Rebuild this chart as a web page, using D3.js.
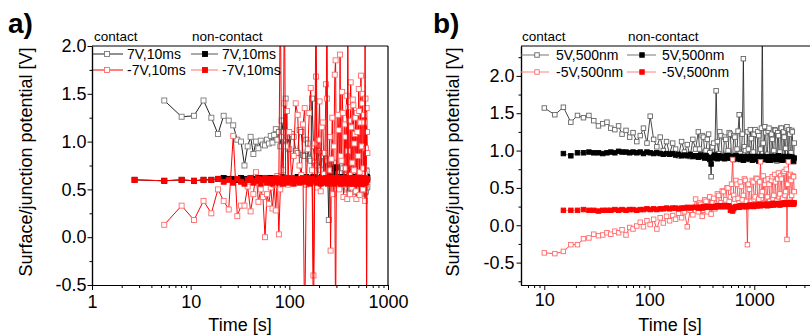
<!DOCTYPE html>
<html>
<head>
<meta charset="utf-8">
<script src="https://cdn.jsdelivr.net/npm/d3@7"></script>
<style>
  body { margin: 0; background: #fff; }
  text { font-family: "Liberation Sans", Arial, sans-serif; fill: #000; }
</style>
</head>
<body>
<div id="chart-area"></div>
<script>

// DATA ------------------------------------------------------------

// panel a) time axis [s]
var timeA = [2.7, 5.4, 8.1, 10.8, 13.5, 16.2, 18.9, 21.6, 24.3, 27,
  29.7, 32.4, 35.1, 37.8, 40.5, 43.2, 45.9, 48.6, 51.3, 54,
  56.7, 59.4, 62.1, 64.8, 67.5, 70.2, 72.9, 75.6, 78.3, 81,
  83.7, 86.4, 89.1, 91.8, 94.5, 97.2,
  99.9, 105.3, 110.7, 116.1, 121.5, 126.9, 132.3, 137.7, 143.1, 148.5,
  153.9, 159.3, 164.7, 170.1, 175.5, 180.9, 186.3, 191.7, 197.1, 202.5,
  207.9, 213.3, 218.7, 224.1, 229.5, 234.9, 240.3, 245.7, 251.1, 256.5,
  261.9, 267.3, 272.7, 278.1, 283.5, 288.9, 294.3, 299.7, 305.1, 310.5,
  315.9, 321.3, 326.7, 332.1, 337.5, 342.9, 348.3, 353.7, 359.1, 364.5,
  369.9, 375.3, 380.7, 386.1, 391.5, 396.9, 402.3, 407.7, 413.1, 418.5,
  423.9, 429.3, 434.7, 440.1, 445.5, 450.9, 456.3, 461.7, 467.1, 472.5,
  477.9, 483.3, 488.7, 494.1, 499.5, 504.9, 510.3, 515.7, 521.1, 526.5,
  531.9, 537.3, 542.7, 548.1, 553.5, 558.9, 564.3, 569.7, 575.1, 580.5,
  585.9, 591.3, 596.7, 602.1, 607.5, 612.9, 618.3];

var contactP7 = [null, 1.43, 1.26, 1.27, 1.43, 1.25, 1.08, 1.27, 1.22, 1.17,
  1.02, 1.00, 0.75, 0.95, 1.05, 0.87, 1.00, 0.93, 1.01, 0.97,
  0.96, 1.02, 0.98, 1.06, 0.99, 1.07, 1.13, 1.02, 1.10, 0.95,
  1.22, 1.10, 1.00, 1.45, 0.97, 1.05,
  0.92, 1.08, 1.05, 0.90, 0.88, 1.12, 1.10, 0.86, 0.85, 1.02,
  0.98, 0.82, 0.80, 1.45, 0.95, 0.78, 0.75, 0.96, 0.90, 0.72,
  0.70, 0.88, 0.85, 0.66, 0.65, 0.82, 0.80, 0.60, 0.18, 0.70,
  0.72, 0.58, 0.62, 0.76, 0.78, 0.60, 0.58, 0.73, 0.70, 0.56,
  0.55, 0.69, 0.68, 0.57, 0.60, 0.74, 0.72, 0.53, 0.55, 0.67,
  0.66, 0.50, 0.52, 0.71, 0.70, 0.56, 0.58, 0.65, 0.64, 0.49,
  0.50, 0.69, 0.68, 0.54, 0.56, 0.63, 0.62, 0.47, 0.48, 0.67,
  0.66, 0.53, 0.55, 0.61, 0.60, 0.46, 0.47, 0.66, 0.65, 0.51,
  0.52, 0.64, 0.63, 0.45, 0.46, 0.68, 0.67, 0.49, 0.50, 0.63,
  0.62, 0.47, 0.48, 0.70, 0.69, 0.52, 0.53];

var contactM7 = [null, 0.13, 0.33, 0.18, 0.38, 0.25, 0.50, 0.38, 0.29, 1.06,
  0.22, 0.33, 0.33, 0.53, 0.27, 0.45, 0.68, 0.37, 0.50, 0.42,
  0.00, 0.45, 0.35, 0.52, 0.30, 0.55, 0.28, 0.64, 0.03, 0.50,
  1.05, 0.70, 1.40, 0.95, 1.32, 0.55,
  1.10, 0.62, 0.85, 1.40, 1.28, 0.75, 0.65, 1.18, 1.35, 0.55,
  0.92, 1.30, 1.56, 0.70, -0.40, 0.98, 1.68, 0.52, 1.02, 1.42,
  0.48, 1.15, 1.20, 0.66, 0.88, 1.60, 1.45, 0.58, 0.70, 1.05,
  -0.14, 0.82, 1.25, 0.45, 0.95, 1.70, 1.85, 0.60, 0.62, 1.28,
  1.12, 0.50, 1.91, 0.85, 0.80, 1.52, 1.30, 0.42, 0.55, 1.18,
  1.05, 0.72, 1.48, 0.40, 0.90, 1.36, 1.22, 0.65, 0.45, 1.62,
  1.15, 0.52, 0.78, 1.44, 1.38, 0.70, 0.98, 1.08, 1.25, 0.48,
  0.40, 1.30, 1.10, 0.62, 0.85, 1.55, 1.32, 0.44, 0.68, 1.20,
  1.69, 0.58, 0.95, 1.40, 1.50, 0.50, 0.72, 1.28, 1.20, 0.66,
  0.38, 1.45, 0.93, 0.55, 1.35, 1.10, 0.88];

var noncontactP7 = [0.60, 0.59, 0.60, 0.59, 0.60, 0.60, 0.61, 0.62, 0.61, 0.61,
  0.60, 0.62, 0.61, 0.60, 0.62, 0.61, 0.60, 0.62, 0.61, 0.62,
  0.60, 0.61, 0.62, 0.61, 0.60, 0.62, 0.61, 0.62, 0.60, 0.61,
  0.63, 0.61, 0.62, 0.60, 0.62, 0.61,
  0.62, 0.61, 0.60, 0.62, 0.63, 0.61, 0.61, 0.60, 0.62, 0.63,
  0.60, 0.61, 0.61, 0.62, 0.63, 0.60, 0.61, 0.62, 0.62, 0.60,
  0.60, 0.63, 0.62, 0.61, 0.61, 0.60, 0.63, 0.62, 0.60, 0.61,
  0.62, 0.63, 0.61, 0.60, 0.62, 0.72, 0.73, 0.62, 0.61, 0.60,
  0.62, 0.61, 0.60, 0.63, 0.63, 0.61, 0.61, 0.62, 0.62, 0.60,
  0.60, 0.61, 0.62, 0.63, 0.61, 0.60, 0.63, 0.62, 0.60, 0.61,
  0.62, 0.60, 0.61, 0.63, 0.62, 0.61, 0.60, 0.62, 0.63, 0.61,
  0.61, 0.60, 0.62, 0.63, 0.60, 0.61, 0.62, 0.60, 0.61, 0.62,
  0.63, 0.61, 0.60, 0.62, 0.62, 0.63, 0.61, 0.60, 0.62, 0.61,
  0.60, 0.62, 0.63, 0.60, 0.61, 0.63, 0.62];

var noncontactM7 = [0.60, 0.59, 0.60, 0.59, 0.60, 0.60, 0.61, 0.58, 0.60, 0.57,
  0.61, 0.58, 0.56, 0.60, 0.62, 0.57, 0.59, 0.61, 0.56, 0.60,
  0.62, 0.57, 0.59, 0.61, 0.56, 0.60, 0.62, 0.58, 0.57, 2.60,
  0.61, 0.56, 2.60, 0.59, 0.62, 0.57,
  0.60, 0.62, 0.56, 0.59, 0.61, 0.57, 0.58, 0.62, -1.00, 0.58,
  0.62, 0.56, 0.57, 0.61, -1.00, 0.59, 2.60, 0.57, 0.60, 0.62,
  0.56, 0.59, 0.61, 0.57, 0.58, 0.62, 2.60, 0.56, 0.57, 0.60,
  0.62, 0.58, 0.59, 0.61, 0.56, 0.58, -1.00, 0.62, 0.61, 0.57,
  0.58, 0.60, 0.62, 0.56, 0.57, 0.61, 0.60, 0.58, 0.56, 0.62,
  0.61, 0.57, 0.59, 0.60, 2.60, 0.58, 0.57, 0.61, 0.62, 0.56,
  0.58, 0.60, 0.56, 0.62, 0.61, 0.57, 0.60, 0.59, 0.57, 0.61,
  0.62, 0.56, 0.58, 0.60, 0.56, 0.62, 0.61, 0.57, 0.59, 0.60,
  0.62, 0.56, 0.57, 0.61, 0.60, 0.58, 0.56, 0.62, 0.61, 0.59,
  2.60, 0.57, 0.58, 0.60, -1.00, 0.61, 0.60];

// panel b) time axis [s]
var timeB = [10, 12.6, 15.2, 17.9, 20.7, 23.6, 26.6, 29.6, 32.8, 36,
  39.5, 43, 47, 51, 55, 60, 65, 70, 76, 82,
  88, 95, 102, 110, 118, 127, 136, 146, 156, 167,
  178, 190, 203, 216, 230, 245, 260, 276,
  293, 301, 310, 319, 328, 337, 347, 357, 367, 377,
  388, 399, 410, 421, 433, 445, 457, 469, 482, 495,
  508, 521, 535, 549, 563, 577, 592, 607, 622, 637,
  653, 669, 685, 701, 718, 735, 752, 769, 787, 805,
  823, 841, 860, 879, 898, 917, 937, 957, 977, 997,
  1018, 1039, 1060, 1081, 1103, 1125, 1147, 1169, 1192, 1215,
  1238, 1261, 1285, 1309, 1333, 1357, 1382, 1407, 1432, 1457,
  1483, 1509, 1535, 1561, 1588, 1615, 1642, 1669, 1697, 1725,
  1753, 1781, 1810, 1839, 1868, 1897, 1927, 1957, 1987, 2017,
  2048, 2079, 2110, 2141, 2173, 2205, 2237, 2269, 2302, 2335,
  2368, 2400];

var contactP5 = [1.57, 1.48, 1.58, 1.38, 1.47, 1.44, 1.47, 1.40, 1.33, 1.36,
  1.38, 1.30, 1.28, 1.33, 1.22, 1.27, 1.18, 1.24, 1.12, 1.20,
  1.30, 1.10, 1.46, 1.15, 1.05, 1.18, 1.00, 1.12, 0.95, 1.10,
  1.02, 0.93, 1.12, 0.98, 1.08, 0.92, 1.15, 1.02,
  1.25, 1.02, 0.95, 1.20, 1.18, 0.98, 1.00, 1.15, 1.22, 0.97,
  0.65, 1.05, 1.10, 0.95, 1.80, 1.12, 0.96, 1.25, 1.20, 0.92,
  0.93, 1.18, 1.15, 0.95, 1.00, 1.24, 1.22, 0.92, 0.90, 1.20,
  1.18, 0.94, 1.02, 1.26, 1.48, 0.96, 0.92, 1.22, 2.23, 1.05,
  1.00, 0.88, 1.25, 1.02, 0.90, 1.28, 1.16, 0.92, 0.98, 1.22,
  1.28, 0.90, 0.88, 1.25, 1.20, 0.86, 1.02, 1.30, 2.60, 1.10,
  0.90, 1.32, 1.24, 0.88, 0.95, 1.26, 1.30, 0.92, 0.88, 1.22,
  1.15, 0.90, 1.00, 1.28, 1.27, 0.92, 0.86, 1.24, 1.20, 0.88,
  0.98, 1.30, 1.30, 0.91, 0.90, 1.25, 1.18, 0.87, 1.03, 1.30,
  1.32, 0.90, 0.87, 1.28, 1.22, 0.88, 0.97, 1.27, 1.25, 0.86,
  0.85, 1.10];

var noncontactP5 = [null, null, 0.96, 0.93, 0.97, 0.97, 0.98, 0.97, 0.97, 0.96,
  0.97, 0.98, 0.97, 0.99, 0.98, 0.98, 0.97, 0.98, 0.97, 0.98,
  0.96, 0.98, 0.97, 0.96, 0.97, 0.96, 0.95, 0.96, 0.95, 0.96,
  0.94, 0.95, 0.93, 0.94, 0.93, 0.95, 0.92, 0.93,
  0.91, 0.93, 0.94, 0.92, 0.92, 0.90, 0.93, 0.91, 0.90, 0.88,
  0.82, 0.90, 0.92, 0.94, 0.91, 0.89, 0.93, 0.91, 0.90, 0.92,
  0.92, 0.89, 0.91, 0.93, 0.93, 0.90, 0.90, 0.92, 0.92, 0.88,
  0.91, 0.93, 0.89, 0.90, 0.92, 0.88, 0.90, 0.92, 0.87, 0.90,
  0.91, 0.89, 0.92, 0.90, 0.89, 0.92, 0.91, 0.87, 0.88, 0.90,
  0.92, 0.89, 0.90, 0.92, 0.86, 0.90, 0.91, 0.88, 0.89, 0.92,
  0.92, 0.90, 0.88, 0.91, 0.91, 0.87, 0.90, 0.92, 0.87, 0.89,
  0.92, 0.90, 0.89, 0.92, 0.91, 0.88, 0.88, 0.91, 0.93, 0.89,
  0.90, 0.92, 0.89, 0.87, 0.92, 0.90, 0.88, 0.91, 0.91, 0.89,
  0.90, 0.92, 0.87, 0.89, 0.92, 0.88, 0.89, 0.91, 0.91, 0.88,
  0.86, 0.90];

var contactM5 = [-0.37, -0.38, -0.35, -0.26, -0.26, -0.18, -0.17, -0.12, -0.14, -0.13,
  -0.10, -0.12, -0.08, -0.10, -0.06, -0.13, -0.03, -0.05, -0.01, 0.04,
  -0.02, 0.06, 0.01, 0.08, -0.05, 0.10, 0.03, 0.12, 0.06, 0.13,
  0.08, 0.16, 0.10, 0.18, -0.02, 0.20, 0.14, 0.35,
  0.18, 0.30, 0.28, 0.12, 0.20, 0.34, 0.32, 0.18, 0.24, 0.38,
  0.15, 0.30, 0.36, 0.22, 0.28, 0.42, 0.40, 0.25, 0.30, 0.46,
  0.45, 0.28, 0.34, 0.50, 0.50, 0.32, 0.38, 0.55, 0.88, 0.40,
  0.35, 0.60, 0.55, 0.36, 0.30, 0.58, 0.52, 0.34, 0.40, 0.62,
  0.60, 0.32, -0.26, 0.55, 0.48, 0.30, 0.32, 0.60, 0.58, 0.35,
  0.38, 0.63, 0.62, 0.30, 0.35, 0.58, 0.85, 0.40, 0.45, 0.66,
  0.30, 0.55, 0.60, 0.28, 0.38, 0.62, 0.55, 0.32, 0.28, 0.60,
  0.65, 0.36, 0.40, 0.68, 0.58, 0.30, 0.33, 0.62, 0.70, 0.38,
  0.42, 0.66, 0.62, 0.34, 0.36, 0.70, 0.72, 0.40, 0.45, 0.75,
  -0.19, 0.55, 0.85, 0.36, 0.38, 0.68, 0.60, 0.40, 0.30, 0.66,
  0.65, 0.45];

var noncontactM5 = [null, null, 0.20, 0.20, 0.20, 0.21, 0.20, 0.20, 0.19, 0.20,
  0.20, 0.20, 0.21, 0.20, 0.21, 0.20, 0.21, 0.21, 0.20, 0.21,
  0.21, 0.22, 0.21, 0.22, 0.21, 0.22, 0.22, 0.23, 0.22, 0.23,
  0.23, 0.22, 0.23, 0.23, 0.24, 0.23, 0.24, 0.24,
  0.23, 0.24, 0.24, 0.23, 0.25, 0.24, 0.24, 0.25, 0.25, 0.24,
  0.24, 0.25, 0.25, 0.24, 0.25, 0.26, 0.26, 0.25, 0.25, 0.26,
  0.26, 0.25, 0.25, 0.26, 0.26, 0.25, 0.20, 0.21, 0.19, 0.22,
  0.24, 0.25, 0.25, 0.24, 0.24, 0.26, 0.26, 0.25, 0.25, 0.26,
  0.26, 0.25, 0.25, 0.26, 0.27, 0.26, 0.26, 0.27, 0.25, 0.26,
  0.27, 0.26, 0.26, 0.27, 0.28, 0.27, 0.26, 0.27, 0.27, 0.28,
  0.28, 0.27, 0.27, 0.28, 0.26, 0.27, 0.28, 0.27, 0.27, 0.28,
  0.29, 0.28, 0.27, 0.28, 0.28, 0.29, 0.29, 0.28, 0.28, 0.29,
  0.27, 0.28, 0.29, 0.28, 0.28, 0.29, 0.30, 0.29, 0.28, 0.29,
  0.29, 0.30, 0.30, 0.29, 0.28, 0.29, 0.29, 0.30, 0.30, 0.29,
  0.28, 0.30];

// tick values
var xTicksA = [1, 10, 100, 1000];
var yTicksA = [-0.5, 0.0, 0.5, 1.0, 1.5, 2.0];
var xTicksB = [10, 100, 1000];
var yTicksB = [-0.5, 0.0, 0.5, 1.0, 1.5, 2.0];

var legendA = ["7V,10ms", "-7V,10ms"];
var legendB = ["5V,500nm", "-5V,500nm"];


// SVG ------------------------------------------------------------

var svg = d3.select("#chart-area").append("svg")
    .attr("width", 810)
    .attr("height", 336);

function minorLog(domain) {
    var out = [];
    for (var e = 0; e < 5; e++) {
        for (var m = 2; m <= 9; m++) {
            var v = m * Math.pow(10, e);
            if (v > domain[0] && v < domain[1]) out.push(v);
        }
    }
    return out;
}

function minorLin(domain) {
    var out = [];
    for (var v = -1; v <= 2.5; v += 0.5) {
        var q = v + 0.25;
        if (q > domain[0] && q < domain[1]) out.push(q);
    }
    return out;
}

function series(times, vals) {
    return times.map((t, i) => ({ t: t, v: vals[i] })).filter(d => d.v != null);
}

function drawPanel(p) {
    var g = svg.append("g").attr("name", p.id);

    var x = d3.scaleLog().domain(p.xDomain).range(p.xRange);
    var y = d3.scaleLinear().domain(p.yDomain).range([285, 46]);

    // clip
    svg.append("clipPath").attr("id", "clip-" + p.id)
        .append("rect")
        .attr("x", p.xRange[0]).attr("y", 46)
        .attr("width", Math.min(p.xRange[1], 810) - p.xRange[0])
        .attr("height", 239);

    var plot = g.append("g").attr("clip-path", "url(#clip-" + p.id + ")");

    var line = d3.line().x(d => x(d.t)).y(d => y(d.v));

    p.series.forEach(s => {
        var data = series(s.times, s.values);
        plot.append("path")
            .datum(data)
            .attr("fill", "none")
            .attr("stroke", s.line)
            .attr("stroke-width", s.lw)
            .attr("d", line);
        plot.selectAll(null)
            .data(data)
            .enter().append("rect")
            .attr("x", d => x(d.t) - p.ms / 2)
            .attr("y", d => y(d.v) - p.ms / 2)
            .attr("width", p.ms)
            .attr("height", p.ms)
            .attr("fill", s.fill)
            .attr("stroke", s.mark)
            .attr("stroke-width", 0.9);
    });

    // frame
    g.append("line")
        .attr("x1", p.xRange[0]).attr("x2", Math.min(p.xRange[1], 812))
        .attr("y1", 46).attr("y2", 46)
        .attr("stroke", "#000").attr("stroke-width", 1.2);
    if (p.xRange[1] < 810) {
        g.append("line")
            .attr("x1", p.xRange[1]).attr("x2", p.xRange[1])
            .attr("y1", 46).attr("y2", 285)
            .attr("stroke", "#000").attr("stroke-width", 1.2);
    }

    // X axis
    var xAxisGroup = g.append("g").attr("transform", "translate(0,285)");
    xAxisGroup.append("g")
        .call(d3.axisBottom(x).tickValues(minorLog(p.xDomain)).tickFormat("").tickSize(3).tickSizeOuter(0));
    xAxisGroup.append("g")
        .call(d3.axisBottom(x).tickValues(p.xTicks).tickFormat(d3.format("d"))
            .tickSize(5).tickSizeOuter(0).tickPadding(p.xPad));

    // Y axis
    var yAxisGroup = g.append("g").attr("transform", "translate(" + p.xRange[0] + ",0)");
    yAxisGroup.append("g")
        .call(d3.axisLeft(y).tickValues(minorLin(p.yDomain)).tickFormat("").tickSize(2.5).tickSizeOuter(0));
    yAxisGroup.append("g")
        .call(d3.axisLeft(y).tickValues(p.yTicks).tickFormat(d3.format(".1f"))
            .tickSize(4.5).tickSizeOuter(0).tickPadding(p.yPad));

    g.selectAll(".domain").attr("stroke", "#000").attr("stroke-width", 1.2);
    g.selectAll(".tick line").attr("stroke", "#000");
    g.selectAll(".tick text")
        .attr("font-size", "18px")
        .attr("font-family", "Liberation Sans, Arial, sans-serif")
        .text(function () { return this.textContent.replace("\u2212", "-"); });

    // axis titles
    g.append("text")
        .attr("x", p.titleX)
        .attr("y", 331)
        .attr("font-size", "18px")
        .attr("text-anchor", "middle")
        .text("Time [s]");
    g.append("text")
        .attr("transform", "translate(" + p.yTitleX + ",162) rotate(-90)")
        .attr("font-size", "18px")
        .attr("text-anchor", "middle")
        .text("Surface/junction potential [V]");

    // panel letter
    g.append("text")
        .attr("x", p.letterX).attr("y", 33)
        .attr("font-size", "28px")
        .attr("font-weight", "bold")
        .text(p.letter);

    // legend
    var lg = g.append("g");
    lg.append("text").attr("x", p.leg.c).attr("y", 41).attr("font-size", "13.5px").text("contact");
    lg.append("text").attr("x", p.leg.n).attr("y", 41).attr("font-size", "13.5px").text("non-contact");
    p.series.forEach((s, i) => {
        var col = i % 2 === 0 ? p.leg.c : p.leg.n;
        var row = i < 2 ? 0 : 1;
        var yy = p.leg.rows[row];
        var l = i % 2 === 0 ? p.leg.cl : p.leg.nl;
        lg.append("line")
            .attr("x1", col - 1).attr("x2", col - 1 + l.len)
            .attr("y1", yy).attr("y2", yy)
            .attr("stroke", s.legLine).attr("stroke-width", 1);
        lg.append("rect")
            .attr("x", col - 1 + l.sq - p.ms / 2).attr("y", yy - p.ms / 2)
            .attr("width", p.ms).attr("height", p.ms)
            .attr("fill", s.fill).attr("stroke", s.mark).attr("stroke-width", 0.9);
        lg.append("text")
            .attr("x", col - 1 + l.txt).attr("y", yy + 5)
            .attr("font-size", "14px")
            .text(p.labels[row]);
    });
}

drawPanel({
    id: "a", letter: "a)", letterX: 8,
    xDomain: [1, 1000], xRange: [92, 388],
    yDomain: [-0.5, 2.0],
    xTicks: xTicksA, yTicks: yTicksA, xPad: 5, yPad: 1,
    titleX: 240, yTitleX: 32, ms: 5,
    labels: legendA,
    leg: { c: 94, n: 192, rows: [54, 70],
           cl: { len: 30, sq: 14, txt: 34 }, nl: { len: 27, sq: 14, txt: 31 } },
    series: [
        { times: timeA, values: contactP7, line: "#222", lw: 1, mark: "#7a7a7a", fill: "#fff", legLine: "#222" },
        { times: timeA, values: noncontactP7, line: "#000", lw: 1, mark: "#000", fill: "#000", legLine: "#555" },
        { times: timeA, values: contactM7, line: "#ff0000", lw: 1, mark: "#ff6a6a", fill: "#fff", legLine: "#ff0000" },
        { times: timeA, values: noncontactM7, line: "#ff0000", lw: 1, mark: "#ff0000", fill: "#ff0000", legLine: "#ff7070" }
    ]
});

drawPanel({
    id: "b", letter: "b)", letterX: 433,
    xDomain: [6, 3500], xRange: [521, 521 + 105 * Math.log10(3500 / 6)],
    yDomain: [-0.8, 2.4],
    xTicks: xTicksB, yTicks: yTicksB, xPad: 3, yPad: 2,
    titleX: 670, yTitleX: 459, ms: 4.5,
    labels: legendB,
    leg: { c: 522, n: 628, rows: [55, 72],
           cl: { len: 28, sq: 16, txt: 35 }, nl: { len: 29, sq: 15, txt: 35 } },
    series: [
        { times: timeB, values: contactP5, line: "#1a1a1a", lw: 0.8, mark: "#666", fill: "#fff", legLine: "#777" },
        { times: timeB, values: noncontactP5, line: "#666", lw: 0.7, mark: "#000", fill: "#000", legLine: "#777" },
        { times: timeB, values: contactM5, line: "#ff2a2a", lw: 0.8, mark: "#ff6a6a", fill: "#fff", legLine: "#ff8080" },
        { times: timeB, values: noncontactM5, line: "#ff5050", lw: 0.7, mark: "#ff0000", fill: "#ff0000", legLine: "#ff8080" }
    ]
});

</script>
</body>
</html>
